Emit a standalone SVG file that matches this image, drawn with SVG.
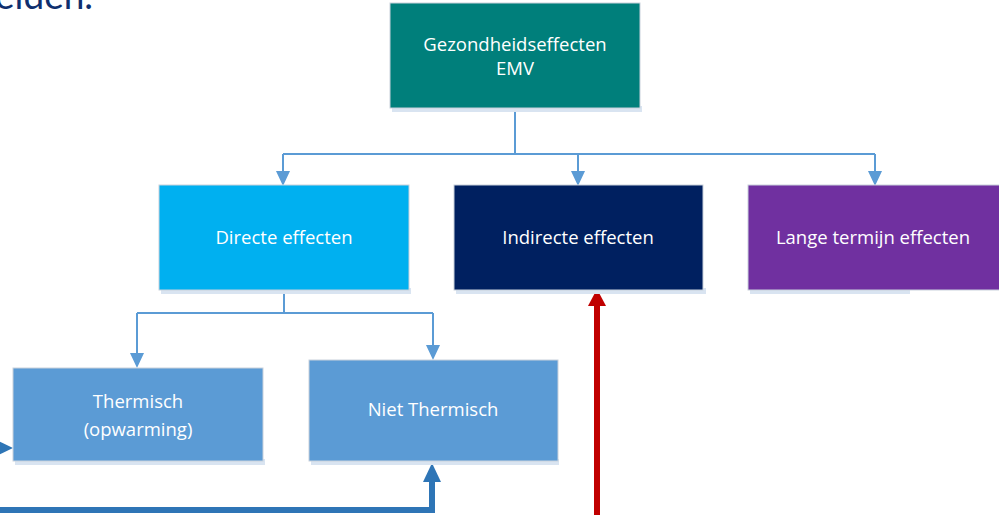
<svg xmlns="http://www.w3.org/2000/svg" width="999" height="515" viewBox="0 0 999 515">
<style>
.box{stroke:#c9d1dc;stroke-width:1}
.shadow{fill:#d9e4f1}
.lbl{font-family:"Open Sans","Noto Sans","Liberation Sans",sans-serif;font-size:18.5px;fill:#ffffff;text-anchor:middle}
.conn{fill:none;stroke:#5b9bd5;stroke-width:2}
</style>
<defs>
<marker id="ah" markerUnits="userSpaceOnUse" markerWidth="16" markerHeight="16" refX="0" refY="7" orient="auto" viewBox="0 0 16 14">
<path d="M0,0 L15,7 L0,14 z" fill="#5b9bd5"/>
</marker>
<marker id="ahThick" markerUnits="userSpaceOnUse" markerWidth="20" markerHeight="20" refX="0" refY="9" orient="auto" viewBox="0 0 20 18">
<path d="M0,0 L19,9 L0,18 z" fill="#2e75b6"/>
</marker>
<marker id="ahRed" markerUnits="userSpaceOnUse" markerWidth="20" markerHeight="20" refX="0" refY="9" orient="auto" viewBox="0 0 20 18">
<path d="M0,0 L17,9 L0,18 z" fill="#c00000"/>
</marker>
</defs>
<rect width="999" height="515" fill="#ffffff"/>
<text x="-5" y="9" font-family="Lato,'Open Sans',sans-serif" font-size="37" fill="#0f2f6e">eiden.</text>

<g id="connectors">
<path class="conn" d="M515,110 V154 M283,154 H875 M283,154 V170 M578,154 V170 M875,154 V170" />
<path class="conn" d="M283,170 V171" marker-end="url(#ah)"/>
<path class="conn" d="M578,170 V171" marker-end="url(#ah)"/>
<path class="conn" d="M875,170 V171" marker-end="url(#ah)"/>
<path class="conn" d="M284,292 V313 M137,313 H433 M137,313 V353 M433,313 V345"/>
<path class="conn" d="M137,352 V353" marker-end="url(#ah)"/>
<path class="conn" d="M433,344 V345" marker-end="url(#ah)"/>
<path d="M-10,510 H432 V482" fill="none" stroke="#2e75b6" stroke-width="6" marker-end="url(#ahThick)"/>
<path d="M-10,448 H-6" fill="none" stroke="#2e75b6" stroke-width="3" marker-end="url(#ahThick)"/>
<path d="M597,520 V306" fill="none" stroke="#c00000" stroke-width="6" marker-end="url(#ahRed)"/>
</g>

<g id="node-emv">
<rect class="shadow" x="392" y="106" width="250" height="6"/>
<rect class="box" x="390" y="3" width="250" height="105" fill="#007f7b"/>
<text class="lbl" x="515" y="51">Gezondheidseffecten</text>
<text class="lbl" x="515" y="75">EMV</text>
</g>

<g id="node-directe">
<rect class="shadow" x="161" y="288" width="250" height="6"/>
<rect class="box" x="159" y="185" width="250" height="105" fill="#00b0f0"/>
<text class="lbl" x="284" y="244">Directe effecten</text>
</g>

<g id="node-indirecte">
<rect class="shadow" x="456" y="288" width="250" height="6"/>
<rect class="box" x="454" y="185" width="249" height="105" fill="#002060"/>
<text class="lbl" x="578" y="244">Indirecte effecten</text>
</g>

<g id="node-lange">
<rect class="shadow" x="750" y="288" width="160" height="6"/>
<rect class="box" x="748" y="185" width="252" height="105" fill="#7030a0"/>
<text class="lbl" x="873" y="244">Lange termijn effecten</text>
</g>

<g id="node-thermisch">
<rect class="shadow" x="15" y="459" width="250" height="6"/>
<rect class="box" x="13" y="368" width="250" height="93" fill="#5b9bd5"/>
<text class="lbl" x="138" y="408">Thermisch</text>
<text class="lbl" x="138" y="436">(opwarming)</text>
</g>

<g id="node-niet-thermisch">
<rect class="shadow" x="311" y="459" width="248" height="6"/>
<rect class="box" x="309" y="360" width="249" height="101" fill="#5b9bd5"/>
<text class="lbl" x="433" y="416">Niet Thermisch</text>
</g>
</svg>
